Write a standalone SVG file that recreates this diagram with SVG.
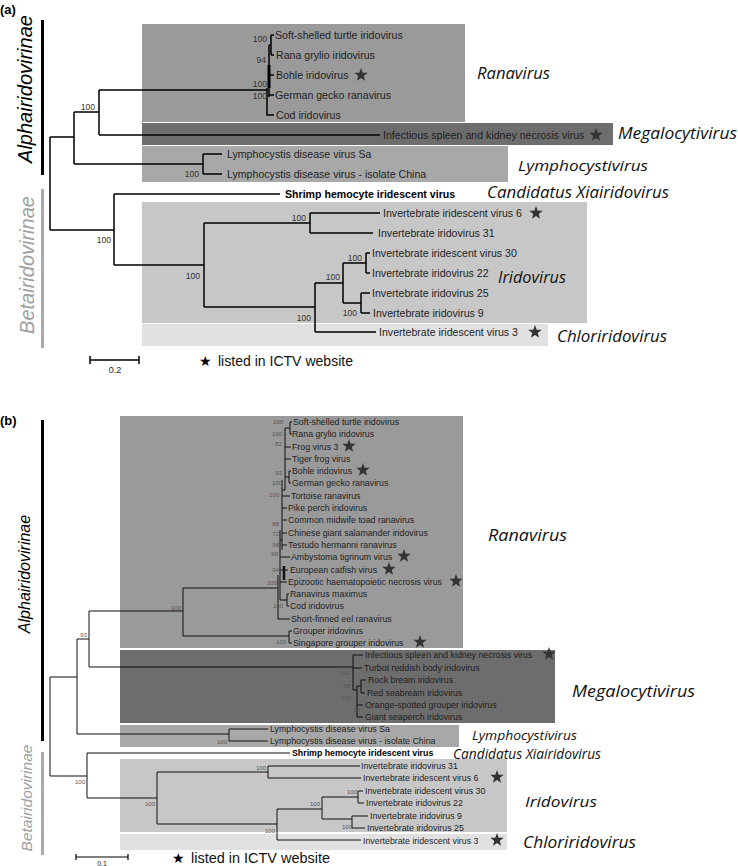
<svg xmlns="http://www.w3.org/2000/svg" width="738" height="866" viewBox="0 0 738 866">
<style>
.t{font-family:"Liberation Sans",Arial,sans-serif;font-size:10.6px;fill:#1e1e1e}
.tb{font-family:"Liberation Sans",Arial,sans-serif;font-size:8.8px;fill:#1e1e1e}
.bold{font-weight:bold;fill:#000}
.s{font-family:"Liberation Sans",Arial,sans-serif;font-size:8.6px;fill:#333;text-anchor:end}
.sb{font-family:"Liberation Sans",Arial,sans-serif;font-size:6px;fill:#555;text-anchor:end}
.g{font-family:"Open Sans","DejaVu Sans",sans-serif;font-style:italic;fill:#111}
.sub{font-family:"Liberation Sans",Arial,sans-serif;font-style:italic;text-anchor:middle}
.pl{font-family:"Liberation Sans",Arial,sans-serif;font-weight:bold;font-size:13px;fill:#000}
.lg{font-family:"Liberation Sans",Arial,sans-serif;font-size:14px;fill:#111}
.ea path{fill:none;stroke:#000;stroke-width:1.5}
.eb path{fill:none;stroke:#111;stroke-width:1}
.ran{fill:#9a9a9a}.meg{fill:#6d6d6d}.lym{fill:#a8a8a8}.iri{fill:#c7c7c7}.chl{fill:#e1e1e1}
</style>
<defs>
<polygon id="star" fill="#333" points="0,-7 1.7,-2.35 6.66,-2.16 2.76,0.9 4.11,5.66 0,2.9 -4.11,5.66 -2.76,0.9 -6.66,-2.16 -1.7,-2.35"/>
</defs>

<!-- ===== Panel (a) ===== -->
<text class="pl" x="0" y="14">(a)</text>
<g id="a-alpha">
<rect x="41" y="20" width="3" height="155" fill="#000"/>
<text class="sub" transform="translate(32,89) rotate(-90)" font-size="20" fill="#000">Alphairidovirinae</text>
</g>
<g id="a-beta">
<rect x="41" y="189" width="3" height="159" fill="#aaa"/>
<text class="sub" transform="translate(34,265) rotate(-90)" font-size="20" fill="#a0a0a0">Betairidovirinae</text>
</g>

<g id="a-boxes">
<rect class="ran" x="142" y="24" width="323" height="98"/>
<rect class="meg" x="142" y="123" width="471" height="22"/>
<rect class="lym" x="142" y="146" width="366" height="36"/>
<rect class="iri" x="142" y="202" width="445" height="121"/>
<rect class="chl" x="142" y="324" width="406" height="22"/>
</g>

<g id="a-edges" class="ea">
<path d="M50,137V230M50,137H74M50,230H114"/>
<path d="M74,112V164M74,112H99M74,164H203"/>
<path d="M99,90V135M99,90H267M99,135H380"/>
<path d="M203,154V174M203,154H222M203,174H222"/>
<path d="M267,88V115H274M269,45V97M271,35V55M271,35H274M271,55H274M269,75H274M269,95H274M269,45H271"/>
<path d="M269,65V88" style="stroke-width:3"/>
<path d="M114,194V265M114,194H280M114,265H204"/>
<path d="M204,223V307M204,223H310M204,307H315"/>
<path d="M310,213V233M310,213H380M310,233H373"/>
<path d="M315,283V332M315,283H343M315,332H376"/>
<path d="M343,263V303M343,263H366M343,303H361"/>
<path d="M366,253V273M366,253H370M366,273H370"/>
<path d="M361,293V313M361,293H370M361,313H370"/>
</g>

<g id="a-support">
<text class="s" x="267" y="42">100</text>
<text class="s" x="266" y="63">94</text>
<text class="s" x="267" y="87">100</text>
<text class="s" x="267" y="99">100</text>
<text class="s" x="95" y="110">100</text>
<text class="s" x="199" y="177">100</text>
<text class="s" x="111" y="243">100</text>
<text class="s" x="200" y="279">100</text>
<text class="s" x="306" y="221">100</text>
<text class="s" x="340" y="280">100</text>
<text class="s" x="362" y="261">100</text>
<text class="s" x="357" y="316">100</text>
<text class="s" x="311" y="321">100</text>
</g>

<g id="a-tip-sst"><text class="t" x="275" y="39">Soft-shelled turtle iridovirus</text></g>
<g id="a-tip-rgv"><text class="t" x="276" y="59">Rana grylio iridovirus</text></g>
<g id="a-tip-biv"><text class="t" x="276" y="79">Bohle iridovirus</text><use href="#star" x="361" y="75"/></g>
<g id="a-tip-ggrv"><text class="t" x="275" y="99">German gecko ranavirus</text></g>
<g id="a-tip-cod"><text class="t" x="276" y="119">Cod iridovirus</text></g>
<g id="a-tip-iskn"><text class="t" x="383" y="139">Infectious spleen and kidney necrosis virus</text><use href="#star" x="596" y="135"/></g>
<g id="a-tip-lcdsa"><text class="t" x="227" y="158">Lymphocystis disease virus Sa</text></g>
<g id="a-tip-lcdch"><text class="t" x="227" y="178">Lymphocystis disease virus - isolate China</text></g>
<g id="a-tip-shiv"><text class="t bold" x="285" y="198">Shrimp hemocyte iridescent virus</text></g>
<g id="a-tip-iiv6"><text class="t" x="383" y="217">Invertebrate iridescent virus 6</text><use href="#star" x="536" y="213"/></g>
<g id="a-tip-iiv31"><text class="t" x="378" y="237">Invertebrate iridovirus 31</text></g>
<g id="a-tip-iiv30"><text class="t" x="372" y="257">Invertebrate iridescent virus 30</text></g>
<g id="a-tip-iiv22"><text class="t" x="372" y="277">Invertebrate iridovirus 22</text></g>
<g id="a-tip-iiv25"><text class="t" x="372" y="297">Invertebrate iridovirus 25</text></g>
<g id="a-tip-iiv9"><text class="t" x="373" y="317">Invertebrate iridovirus 9</text></g>
<g id="a-tip-iiv3"><text class="t" x="379" y="336">Invertebrate iridescent virus 3</text><use href="#star" x="535" y="332"/></g>

<g id="a-genera">
<text class="g" x="477" y="79" font-size="15.5" textLength="73" lengthAdjust="spacingAndGlyphs">Ranavirus</text>
<text class="g" x="618" y="139" font-size="16" textLength="119" lengthAdjust="spacingAndGlyphs">Megalocytivirus</text>
<text class="g" x="518" y="171" font-size="14.5" textLength="130" lengthAdjust="spacingAndGlyphs">Lymphocystivirus</text>
<text class="g" x="487" y="198" font-size="16" textLength="182" lengthAdjust="spacingAndGlyphs">Candidatus Xiairidovirus</text>
<text class="g" x="498" y="283" font-size="16" textLength="68" lengthAdjust="spacingAndGlyphs">Iridovirus</text>
<text class="g" x="557" y="342" font-size="16" textLength="110" lengthAdjust="spacingAndGlyphs">Chloriridovirus</text>
</g>

<g id="a-scale">
<path d="M90,360H139M90,356V364M139,356V364" stroke="#000" stroke-width="1.5" fill="none"/>
<text x="115" y="373" font-family="Liberation Sans, Arial, sans-serif" font-size="9" text-anchor="middle" fill="#222">0.2</text>
</g>
<g id="a-legend">
<text x="199" y="366" font-family="DejaVu Sans, sans-serif" font-size="14" fill="#000">★</text>
<text class="lg" x="218" y="366" textLength="135" lengthAdjust="spacingAndGlyphs">listed in ICTV website</text>
</g>

<!-- ===== Panel (b) ===== -->
<text class="pl" x="0" y="425">(b)</text>
<g id="b-alpha">
<rect x="41" y="420" width="3" height="321" fill="#000"/>
<text class="sub" transform="translate(30,574) rotate(-90)" font-size="16" fill="#000">Alphairidovirinae</text>
</g>
<g id="b-beta">
<rect x="41" y="752" width="3" height="103" fill="#aaa"/>
<text class="sub" transform="translate(32,798) rotate(-90)" font-size="15.5" fill="#a0a0a0">Betairidovirinae</text>
</g>

<g id="b-boxes">
<rect class="ran" x="120" y="416" width="343" height="232"/>
<rect class="meg" x="120" y="650" width="435" height="73"/>
<rect class="lym" x="120" y="725" width="339" height="22"/>
<rect class="iri" x="120" y="759" width="387" height="73"/>
<rect class="chl" x="120" y="834" width="387" height="16"/>
</g>

<g id="b-edges" class="eb">
<path d="M50,677V776M50,677H77M50,776H87"/>
<path d="M77,639V734M77,639H89M77,734H229"/>
<path d="M89,611V667M89,611H183M89,667H353"/>
<path d="M183,588V636M183,588H278M183,636H289"/>
<path d="M289,631V643M289,631H292M289,643H292"/>
<path d="M285,428V490M290,422V434M290,422H292M290,434H292M285,428H290M285,447H291M285,459H291M289,471V483M289,471H291M289,483H291M285,477H289"/>
<path d="M282,480V550M282,490H285M282,496H290M282,508H287M282,520H287M282,533H287M282,545H287"/>
<path d="M280,530V600M280,540H282M280,557H290M280,570H288M280,582H287M287,594V606M287,594H289M287,606H289M280,600H287"/>
<path d="M284,566V580" style="stroke-width:2.5"/>
<path d="M278,575V619M278,619H290"/>
<path d="M353,655V690M353,655H363M353,668H362M353,690H357M357,686V717M357,686H361M361,680V693M361,680H366M361,693H365M357,705H363M357,717H363"/>
<path d="M229,729V741M229,729H268M229,741H268"/>
<path d="M87,753V798M87,753H290M87,798H157"/>
<path d="M157,772V824M157,772H268M157,824H277"/>
<path d="M268,766V778M268,766H360M268,778H361"/>
<path d="M277,809V840M277,809H322M277,840H361"/>
<path d="M322,797V819M322,797H358M322,819H352"/>
<path d="M358,791V803M358,791H363M358,803H364"/>
<path d="M352,816V828M352,816H368M352,828H365"/>
</g>

<g id="b-support">
<text class="sb" x="283" y="424">100</text>
<text class="sb" x="282" y="436">100</text>
<text class="sb" x="282" y="446">82</text>
<text class="sb" x="282" y="475">93</text>
<text class="sb" x="282" y="485">100</text>
<text class="sb" x="279" y="497">100</text>
<text class="sb" x="279" y="526">88</text>
<text class="sb" x="279" y="536">72</text>
<text class="sb" x="279" y="547">98</text>
<text class="sb" x="278" y="556">96</text>
<text class="sb" x="279" y="572">94</text>
<text class="sb" x="277" y="585">100</text>
<text class="sb" x="283" y="608">100</text>
<text class="sb" x="181" y="610">100</text>
<text class="sb" x="87" y="637">93</text>
<text class="sb" x="286" y="644">100</text>
<text class="sb" x="350" y="675">100</text>
<text class="sb" x="350" y="688">56</text>
<text class="sb" x="351" y="700">100</text>
<text class="sb" x="360" y="712">93</text>
<text class="sb" x="227" y="744">100</text>
<text class="sb" x="85" y="784">100</text>
<text class="sb" x="155" y="806">100</text>
<text class="sb" x="266" y="770">100</text>
<text class="sb" x="320" y="806">100</text>
<text class="sb" x="357" y="794">100</text>
<text class="sb" x="352" y="829">100</text>
<text class="sb" x="275" y="833">100</text>
</g>

<g id="b-tip-sst"><text class="tb" x="293" y="425">Soft-shelled turtle iridovirus</text></g>
<g id="b-tip-rgv"><text class="tb" x="292" y="437">Rana grylio iridovirus</text></g>
<g id="b-tip-fv3"><text class="tb" x="292" y="450">Frog virus 3</text><use href="#star" x="349" y="446"/></g>
<g id="b-tip-tfv"><text class="tb" x="292" y="462">Tiger frog virus</text></g>
<g id="b-tip-biv"><text class="tb" x="292" y="474">Bohle iridovirus</text><use href="#star" x="363" y="470"/></g>
<g id="b-tip-ggrv"><text class="tb" x="292" y="486">German gecko ranavirus</text></g>
<g id="b-tip-trv"><text class="tb" x="291" y="499">Tortoise ranavirus</text></g>
<g id="b-tip-ppiv"><text class="tb" x="288" y="511">Pike perch iridovirus</text></g>
<g id="b-tip-cmtv"><text class="tb" x="288" y="523">Common midwife toad ranavirus</text></g>
<g id="b-tip-cgsiv"><text class="tb" x="288" y="536">Chinese giant salamander iridovirus</text></g>
<g id="b-tip-thrv"><text class="tb" x="288" y="548">Testudo hermanni ranavirus</text></g>
<g id="b-tip-atv"><text class="tb" x="291" y="560">Ambystoma tigrinum virus</text><use href="#star" x="404" y="556"/></g>
<g id="b-tip-ecv"><text class="tb" x="290" y="573">European catfish virus</text><use href="#star" x="389" y="569"/></g>
<g id="b-tip-ehnv"><text class="tb" x="288" y="585">Epizootic haematopoietic necrosis virus</text><use href="#star" x="456" y="581"/></g>
<g id="b-tip-rmax"><text class="tb" x="290" y="597">Ranavirus maximus</text></g>
<g id="b-tip-cod"><text class="tb" x="290" y="609">Cod iridovirus</text></g>
<g id="b-tip-sferv"><text class="tb" x="291" y="622">Short-finned eel ranavirus</text></g>
<g id="b-tip-giv"><text class="tb" x="293" y="634">Grouper iridovirus</text></g>
<g id="b-tip-sgiv"><text class="tb" x="293" y="646">Singapore grouper iridovirus</text><use href="#star" x="420" y="642"/></g>
<g id="b-tip-iskn"><text class="tb" x="365" y="658">Infectious spleen and kidney necrosis virus</text><use href="#star" x="549" y="654"/></g>
<g id="b-tip-trbiv"><text class="tb" x="364" y="671">Turbot reddish body iridovirus</text></g>
<g id="b-tip-rbiv"><text class="tb" x="368" y="683">Rock bream iridovirus</text></g>
<g id="b-tip-rsiv"><text class="tb" x="367" y="696">Red seabream iridovirus</text></g>
<g id="b-tip-osgiv"><text class="tb" x="365" y="708">Orange-spotted grouper iridovirus</text></g>
<g id="b-tip-gsiv"><text class="tb" x="365" y="720">Giant seaperch iridovirus</text></g>
<g id="b-tip-lcdsa"><text class="tb" x="270" y="732">Lymphocystis disease virus Sa</text></g>
<g id="b-tip-lcdch"><text class="tb" x="270" y="744">Lymphocystis disease virus - isolate China</text></g>
<g id="b-tip-shiv"><text class="tb bold" x="292" y="756">Shrimp hemocyte iridescent virus</text></g>
<g id="b-tip-iiv31"><text class="tb" x="361" y="769">Invertebrate iridovirus 31</text></g>
<g id="b-tip-iiv6"><text class="tb" x="363" y="781">Invertebrate iridescent virus 6</text><use href="#star" x="497" y="777"/></g>
<g id="b-tip-iiv30"><text class="tb" x="365" y="794">Invertebrate iridescent virus 30</text></g>
<g id="b-tip-iiv22"><text class="tb" x="366" y="806">Invertebrate iridovirus 22</text></g>
<g id="b-tip-iiv9"><text class="tb" x="370" y="819">Invertebrate iridovirus 9</text></g>
<g id="b-tip-iiv25"><text class="tb" x="367" y="831">Invertebrate iridovirus 25</text></g>
<g id="b-tip-iiv3"><text class="tb" x="363" y="844">Invertebrate iridescent virus 3</text><use href="#star" x="497" y="840"/></g>

<g id="b-genera">
<text class="g" x="488" y="541" font-size="16" textLength="79" lengthAdjust="spacingAndGlyphs">Ranavirus</text>
<text class="g" x="572" y="697" font-size="16" textLength="123" lengthAdjust="spacingAndGlyphs">Megalocytivirus</text>
<text class="g" x="472" y="740" font-size="12" textLength="105" lengthAdjust="spacingAndGlyphs">Lymphocystivirus</text>
<text class="g" x="453" y="759" font-size="14" textLength="148" lengthAdjust="spacingAndGlyphs">Candidatus Xiairidovirus</text>
<text class="g" x="525" y="807" font-size="15" textLength="72" lengthAdjust="spacingAndGlyphs">Iridovirus</text>
<text class="g" x="523" y="848" font-size="15.5" textLength="113" lengthAdjust="spacingAndGlyphs">Chloriridovirus</text>
</g>

<g id="b-scale">
<path d="M76,857H128M76,854V860M128,854V860" stroke="#000" stroke-width="1.2" fill="none"/>
<text x="102" y="866" font-family="Liberation Sans, Arial, sans-serif" font-size="7" text-anchor="middle" fill="#222">0.1</text>
</g>
<g id="b-legend">
<text x="172" y="863" font-family="DejaVu Sans, sans-serif" font-size="14" fill="#000">★</text>
<text class="lg" x="191" y="863" textLength="139" lengthAdjust="spacingAndGlyphs">listed in ICTV website</text>
</g>
</svg>
